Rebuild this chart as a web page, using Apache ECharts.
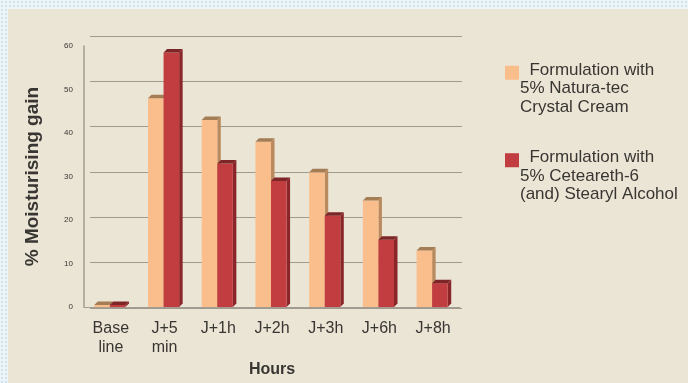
<!DOCTYPE html>
<html>
<head>
<meta charset="utf-8">
<script src="https://cdn.jsdelivr.net/npm/echarts@6/dist/echarts.min.js"></script>
<style>
  html, body { margin: 0; padding: 0; width: 688px; height: 383px; overflow: hidden; }
  body {
    background-color: #eef5f9;
    background-image: radial-gradient(#cfe2ef 1px, transparent 1.2px);
    background-size: 4px 4px;
    position: relative;
  }
  #paper { position: absolute; left: 8px; top: 9px; right: 0; bottom: 0; background: #ebe5d6; }
  #chart { position: absolute; left: 0; top: 0; width: 688px; height: 383px; }
</style>
</head>
<body>
<div id="paper"></div>
<div id="chart"></div>
<script>
const categories = ['Base\nline', 'J+5\nmin', 'J+1h', 'J+2h', 'J+3h', 'J+6h', 'J+8h'];
const naturaTec = [0.5, 48, 43, 38, 31, 24.5, 13];
const ceteareth = [0.5, 58.5, 33, 29, 21, 15.5, 5.5];
const yTicks = [0, 10, 20, 30, 40, 50, 60];
const seriesNames = [
  '  Formulation with\n5% Natura-tec\nCrystal Cream',
  '  Formulation with\n5% Ceteareth-6\n(and) Stearyl Alcohol'
];

const palette = [
  { front: '#f9be8c', side: '#b98a5e', top: '#a57d55' },
  { front: '#c13d40', side: '#8a2629', top: '#7d2527' }
];

function makeRender(idx) {
  return function (params, api) {
    const cat = api.value(0), val = api.value(1);
    const topPt = api.coord([cat, val]);
    const basePt = api.coord([cat, 0]);
    const bw = api.size([1, 0])[0] * 0.29;
    const d = 3.5;
    const x0 = idx === 0 ? topPt[0] - bw - 1 : topPt[0] - 1;
    const yT = topPt[1], yB = basePt[1];
    const c = palette[idx];
    return {
      type: 'group',
      children: [
        { type: 'polygon', shape: { points: [[x0 + bw, yT], [x0 + bw + d, yT - d], [x0 + bw + d, yB - d], [x0 + bw, yB]] }, style: { fill: c.side } },
        { type: 'rect', shape: { x: x0, y: yT, width: bw, height: yB - yT }, style: { fill: c.front } },
        { type: 'polygon', shape: { points: [[x0, yT], [x0 + d, yT - d], [x0 + bw + d, yT - d], [x0 + bw, yT]] }, style: { fill: c.top } }
      ]
    };
  };
}

const chart = echarts.init(document.getElementById('chart'), null, { renderer: 'canvas' });
const textColor = '#383632';
chart.setOption({
  backgroundColor: 'transparent',
  animation: false,
  textStyle: { fontFamily: 'Liberation Sans, Arial, sans-serif' },
  legend: {
    orient: 'vertical',
    left: 500,
    top: 56,
    itemWidth: 14,
    itemHeight: 52,
    itemGap: 32,
    icon: 'path://M0,0h0.001v0.001h-0.001zM0,3h14v14h-14zM14,52h0.001v0.001h-0.001z',
    textStyle: { color: textColor, fontSize: 17, lineHeight: 18.5, padding: [0, 0, 0, -4] },
    data: seriesNames
  },
  grid: [
    { left: 84, right: 228, top: 46, bottom: 65 },
    { left: 90, right: 226, top: 36, bottom: 75 }
  ],
  xAxis: [
    {
      gridIndex: 0, type: 'category', data: categories,
      axisLine: { show: true, lineStyle: { color: '#a29c92', width: 1 } },
      axisTick: { show: false },
      axisLabel: { interval: 0, color: textColor, fontSize: 16, lineHeight: 19, margin: 12 },
      name: 'Hours', nameLocation: 'middle', nameGap: 53,
      nameTextStyle: { color: textColor, fontSize: 16, fontWeight: 'bold' }
    },
    {
      gridIndex: 1, type: 'category', data: categories, show: false
    }
  ],
  yAxis: [
    {
      gridIndex: 0, type: 'value', min: 0, max: 60, interval: 10,
      axisLine: { show: true, lineStyle: { color: '#a29c92', width: 1.5 } },
      axisTick: { show: false },
      splitLine: { show: false },
      axisLabel: { color: textColor, fontSize: 8, margin: 11,
        formatter: v => yTicks.includes(v) ? String(v) : '' },
      name: '% Moisturising gain', nameLocation: 'middle', nameGap: 42,
      nameTextStyle: { color: textColor, fontSize: 19, fontWeight: 'bold' }
    },
    {
      gridIndex: 1, type: 'value', min: 0, max: 60, interval: 10,
      axisLine: { show: false }, axisTick: { show: false }, axisLabel: { show: false },
      splitLine: { show: true, lineStyle: { color: '#9f998e', width: 1.2 } }
    }
  ],
  series: [
    {
      name: seriesNames[0], type: 'custom', xAxisIndex: 0, yAxisIndex: 0,
      itemStyle: { color: palette[0].front },
      renderItem: makeRender(0),
      encode: { x: 0, y: 1 },
      data: naturaTec.map((v, i) => [i, v])
    },
    {
      name: seriesNames[1], type: 'custom', xAxisIndex: 0, yAxisIndex: 0,
      itemStyle: { color: palette[1].front },
      renderItem: makeRender(1),
      encode: { x: 0, y: 1 },
      data: ceteareth.map((v, i) => [i, v])
    }
  ]
});
</script>
</body>
</html>
